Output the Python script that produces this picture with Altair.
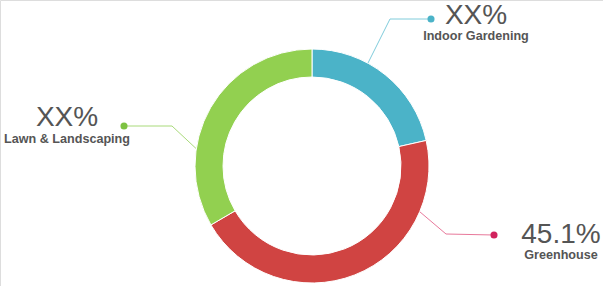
import altair as alt
import pandas as pd

# --- data ---
categories = ["Indoor Gardening", "Greenhouse", "Lawn & Landscaping"]
shares = [21.5, 45.1, 33.4]
value_labels = ["XX%", "45.1%", "XX%"]
slice_colors = ["#4BB3C8", "#D04442", "#92D050"]
line_colors = ["#80CCDB", "#E8799B", "#A9DA7A"]
dot_colors = ["#4BB3C8", "#D1235E", "#7DC242"]

# --- annotation layout (pixel space of the 603x286 canvas) ---
leader_x = [[368, 390, 431], [413, 446, 494], [203, 172, 124]]
leader_y = [[63, 19, 19], [206, 234, 235], [155, 126, 126]]
label_x = [476, 561, 67]
value_y = [24, 243, 126]
name_y = [40, 259, 143]

W, H = 603, 286
CX, CY = 312, 166

pie = pd.DataFrame({"cat": categories, "share": shares, "order": [0, 1, 2]})

lines = pd.DataFrame([
    {"cat": c, "x": x, "y": y, "step": k}
    for c, xs, ys in zip(categories, leader_x, leader_y)
    for k, (x, y) in enumerate(zip(xs, ys))
])
dots = pd.DataFrame({"cat": categories, "x": [xs[-1] for xs in leader_x],
                     "y": [ys[-1] for ys in leader_y]})
labels = pd.DataFrame({"cat": categories, "val": value_labels, "x": label_x,
                       "vy": value_y, "ny": name_y})

xs = alt.Scale(domain=[0, W], range=[0, W])
ys = alt.Scale(domain=[0, H], range=[0, H])
noax = None

line_col = alt.Color("cat:N", scale=alt.Scale(domain=categories, range=line_colors), legend=None)
dot_col = alt.Color("cat:N", scale=alt.Scale(domain=categories, range=dot_colors), legend=None)

leader = alt.Chart(lines).mark_line(strokeWidth=1).encode(
    x=alt.X("x:Q", scale=xs, axis=noax),
    y=alt.Y("y:Q", scale=ys, axis=noax),
    order="step:O",
    detail="cat:N",
    color=line_col,
)

arc = alt.Chart(pie).mark_arc(outerRadius=117, innerRadius=89, stroke="white", strokeWidth=1).encode(
    theta=alt.Theta("share:Q", stack=True),
    order=alt.Order("order:O"),
    color=alt.Color("cat:N", scale=alt.Scale(domain=categories, range=slice_colors), legend=None),
    x=alt.value(CX),
    y=alt.value(CY),
)

dot = alt.Chart(dots).mark_circle(size=50, opacity=1).encode(
    x=alt.X("x:Q", scale=xs, axis=noax),
    y=alt.Y("y:Q", scale=ys, axis=noax),
    color=dot_col,
)

val_text = alt.Chart(labels).mark_text(
    font="Liberation Sans", fontSize=28, color="#555555", align="center", baseline="alphabetic"
).encode(
    x=alt.X("x:Q", scale=xs, axis=noax),
    y=alt.Y("vy:Q", scale=ys, axis=noax),
    text="val:N",
)

name_text = alt.Chart(labels).mark_text(
    font="Liberation Sans", fontSize=12.6, fontWeight="bold", color="#555555",
    align="center", baseline="alphabetic"
).encode(
    x=alt.X("x:Q", scale=xs, axis=noax),
    y=alt.Y("ny:Q", scale=ys, axis=noax),
    text="cat:N",
)

chart = alt.layer(leader, arc, dot, val_text, name_text).resolve_scale(color="independent").properties(
    width=W, height=H, padding=0,
    autosize=alt.AutoSizeParams(type="none"),
).configure_view(stroke=None).configure(background="white")

chart.save("out.html", embed_options={"renderer": "svg", "actions": False})
